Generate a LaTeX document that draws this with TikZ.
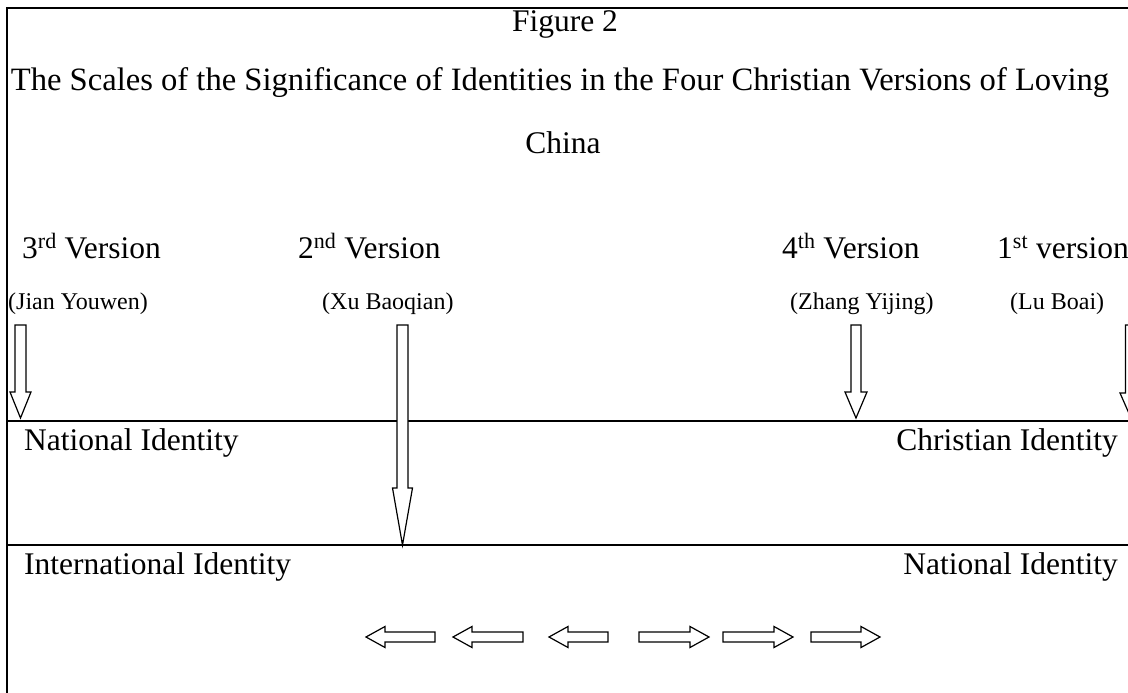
\documentclass[tikz,border=0pt]{standalone}
\usepackage{fontspec}
\setmainfont{Liberation Serif}
\newcommand\downblock[6]{\draw[blk] (#1-#2,#4) -- (#1-#2,#5) -- (#1-#3,#5) -- (#1,#6) -- (#1+#3,#5) -- (#1+#2,#5) -- (#1+#2,#4) -- cycle;}
\newcommand\leftblock[3]{\draw[blk] (#1,#3) -- (#1+19,#3-10.5) -- (#1+19,#3-5) -- (#2,#3-5) -- (#2,#3+5) -- (#1+19,#3+5) -- (#1+19,#3+10.5) -- cycle;}
\newcommand\rightblock[3]{\draw[blk] (#2,#3) -- (#2-19,#3-10.5) -- (#2-19,#3-5) -- (#1,#3-5) -- (#1,#3+5) -- (#2-19,#3+5) -- (#2-19,#3+10.5) -- cycle;}
\begin{document}
\begin{tikzpicture}[x=1pt,y=-1pt,
  big/.style={font=\fontsize{31.5}{36}\selectfont, inner sep=0pt},
  ttl/.style={font=\fontsize{32.6}{38}\selectfont, inner sep=0pt},
  small/.style={font=\fontsize{24}{28}\selectfont, inner sep=0pt},
  frame/.style={line width=1.6pt},
  rule/.style={line width=1.6pt},
  blk/.style={draw, line width=1.2pt, fill=white, line join=miter}]
\useasboundingbox (0,0) rectangle (1128,693);
\clip (0,0) rectangle (1128,693);
\fill[white] (0,0) rectangle (1128,693);
% frame
\coordinate (fb) at (7,693);
\coordinate (ftl) at (7,8);
\coordinate (ftr) at (1128,8);
\draw[frame] (fb) -- (ftl) -- (ftr);
% titles
\node[big, anchor=base] (fig) at (565,32) {Figure 2};
\node[ttl, anchor=base] (title) at (560,91) {The Scales of the Significance of Identities in the Four Christian Versions of Loving};
\node[big, anchor=base] (china) at (563,153) {China};
% versions
\node[big, anchor=base west] (v3) at (22,258) {3\textsuperscript{rd} Version};
\node[big, anchor=base west] (v2) at (298,258) {2\textsuperscript{nd} Version};
\node[big, anchor=base west] (v4) at (782,258) {4\textsuperscript{th} Version};
\node[big, anchor=base west] (v1) at (997,258) {1\textsuperscript{st} version};
\node[small, anchor=base west] (n3) at (8,309) {(Jian Youwen)};
\node[small, anchor=base west] (n2) at (322,309) {(Xu Baoqian)};
\node[small, anchor=base west] (n4) at (790,309) {(Zhang Yijing)};
\node[small, anchor=base west] (n1) at (1010,309) {(Lu Boai)};
% scale lines
\coordinate (l1a) at (7,421);
\coordinate (l1b) at (1128,421);
\coordinate (l2a) at (7,545);
\coordinate (l2b) at (1128,545);
\draw[rule] (l1a) -- (l1b);
\draw[rule] (l2a) -- (l2b);
\node[big, anchor=base west] (natl) at (24,450) {National Identity};
\node[big, anchor=base east] (chr) at (1118,450) {Christian Identity};
\node[big, anchor=base west] (intl) at (24,574) {International Identity};
\node[big, anchor=base east] (nat2) at (1118,574) {National Identity};
% vertical block arrows
\downblock{20.5}{5.5}{10.5}{325}{392}{418}
\downblock{402.5}{5.5}{10}{325}{488}{545}
\downblock{856}{5}{11}{325}{392}{418}
\downblock{1131}{5.5}{11}{325}{393}{418}
% horizontal block arrows
\leftblock{366}{435}{637}
\leftblock{453}{523}{637}
\leftblock{549}{608}{637}
\rightblock{639}{709}{637}
\rightblock{723}{793}{637}
\rightblock{811}{880}{637}
\end{tikzpicture}
\end{document}
